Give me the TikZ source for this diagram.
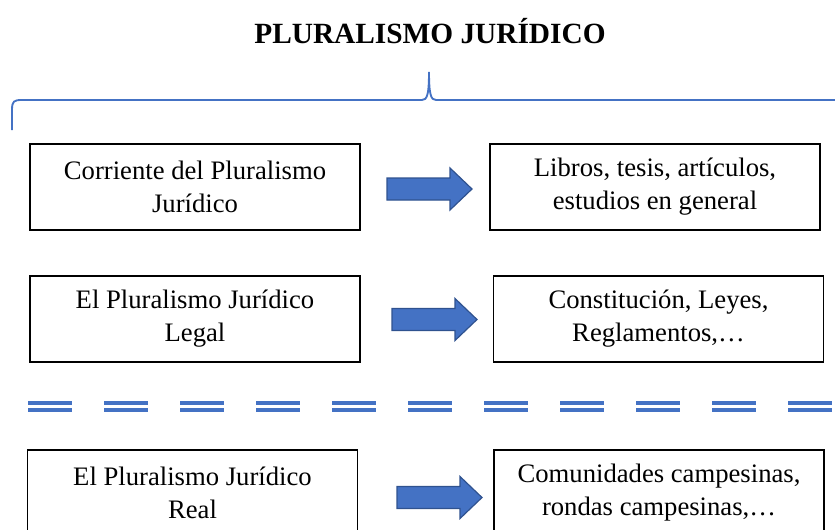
\documentclass[tikz,border=0pt]{standalone}
\usepackage{fontspec}
\setmainfont{Liberation Serif}
\definecolor{wordblue}{HTML}{4472C4}
\definecolor{wordedge}{HTML}{2F528F}
\tikzset{
  box/.style={draw, line width=0.8pt, minimum width=247.5pt, minimum height=64.5pt,
    inner sep=0pt, align=center, font=\fontsize{20}{24.75}\selectfont},
  arrowfill/.style={fill=wordblue, draw=wordedge, line width=0.9pt, line join=miter},
  dashline/.style={wordblue, line width=3pt, dash pattern=on 33pt off 24pt}
}
\newcommand{\blockarrow}[1]{\filldraw[arrowfill] (#1) ++(0,-11) -- ++(63,0) -- ++(0,-10) -- ++(22,21) -- ++(-22,21) -- ++(0,-10) -- ++(-63,0) -- cycle;}
\begin{document}
\begin{tikzpicture}[x={(0.75pt,0)}, y={(0,-0.75pt)}]
\useasboundingbox (0,0) rectangle (835,529);
\node[font=\fontsize{22}{26}\selectfont\bfseries] (titulo) at (430,31) {PLURALISMO JURÍDICO};
% llave
\draw[wordblue, line width=1.4pt] (12,130) -- (12,110) .. controls (12,101) and (14,100) .. (22,100) -- (422,100) .. controls (427,100) and (429,95) .. (429,72) .. controls (429,95) and (431,100) .. (436,100) -- (835,100);
% fila 1
\node[box] (corriente) at (195,187) {Corriente del Pluralismo \\ Jurídico};
\node[box] (libros) at (655,187) {Libros, tesis, artículos, \\ estudios en general};
\coordinate (a1) at (387,189);
\blockarrow{a1}
% fila 2
\node[box] (legal) at (195,319) {El Pluralismo Jurídico \\ Legal};
\node[box] (leyes) at (658.5,319) {Constitución, Leyes, \\ Reglamentos,\ldots};
\coordinate (a2) at (392,319.5);
\blockarrow{a2}
% separador
\foreach \y in {402.5,410}
  \draw[dashline] (28,\y) -- (835,\y);
% fila 3
\node[box] (real) at (192.5,493) {El Pluralismo Jurídico \\ Real};
\node[box] (rondas) at (659,493) {Comunidades campesinas, \\ rondas campesinas,\ldots};
\coordinate (a3) at (397,497.5);
\blockarrow{a3}
\end{tikzpicture}
\end{document}
